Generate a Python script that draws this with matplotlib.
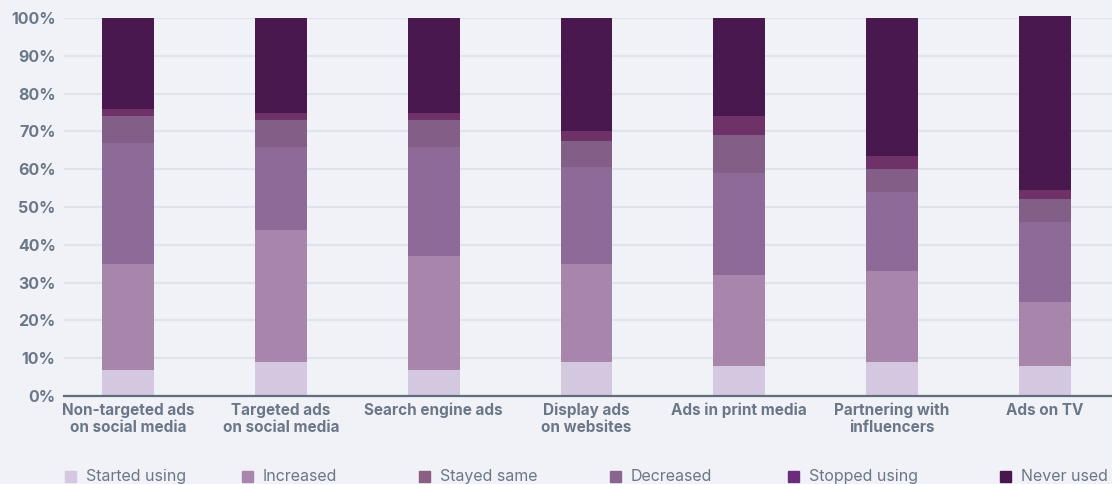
import matplotlib

matplotlib.use("Agg")
import matplotlib.pyplot as plt
import numpy as np
from matplotlib.patches import Rectangle

# donnees (en %)
categories = [
    "Non-targeted ads\non social media",
    "Targeted ads\non social media",
    "Search engine ads",
    "Display ads\non websites",
    "Ads in print media",
    "Partnering with\ninfluencers",
    "Ads on TV",
]
series = ["Started using", "Increased", "Stayed same", "Decreased",
          "Stopped using", "Never used"]
started = [7, 9, 7, 9, 8, 9, 8]
increased = [28, 35, 30, 26, 24, 24, 17]
stayed = [32, 22, 29, 25.5, 27, 21, 21]
decreased = [7, 7, 7, 7, 10, 6, 6]
stopped = [2, 2, 2, 2.5, 5, 3.5, 2.5]
never = [24, 25, 25, 30, 26, 36.5, 46]
values = [started, increased, stayed, decreased, stopped, never]

colors = ["#d3c8e0", "#a886ab", "#8d6a98", "#835e86", "#6e3168", "#48184e"]
legend_colors = ["#d3c8e0", "#a886ab", "#8b5e83", "#8a6590", "#6b2c7d", "#48174e"]

BG = "#f0f2f7"
TXT = "#6b7787"
plt.rcParams["font.family"] = ["Inter", "DejaVu Sans"]

fig = plt.figure(figsize=(11.12, 4.84), dpi=100, facecolor=BG)
ax = fig.add_axes([64 / 1112, 1 - 396 / 484, 1 - 64 / 1112, 378 / 484])
ax.set_facecolor(BG)

x = np.arange(len(categories))
bottom = np.zeros(len(categories))
for vals, col in zip(values, colors):
    ax.bar(x, vals, width=0.34, bottom=bottom, color=col, linewidth=0,
           zorder=3, clip_on=False)
    bottom += np.array(vals)

ax.set_xlim(-0.42, 6.44)
ax.set_ylim(0, 100)
ax.set_yticks(np.arange(0, 101, 10))
ax.set_yticklabels([f"{v}%" for v in range(0, 101, 10)])
ax.yaxis.grid(True, color="#dfe3ea", linewidth=1.6, zorder=0)
ax.set_axisbelow(True)
ax.set_xticks(x)
ax.set_xticklabels(categories, linespacing=1.15)

for s in ["top", "right", "left"]:
    ax.spines[s].set_visible(False)
ax.spines["bottom"].set_color("#5f6d7c")
ax.spines["bottom"].set_linewidth(1.6)
ax.spines["bottom"].set_zorder(4)

ax.tick_params(axis="y", length=0, pad=6, labelsize=11.5, labelcolor=TXT)
ax.tick_params(axis="x", length=0, pad=5, labelsize=11, labelcolor=TXT)
for lab in ax.get_xticklabels() + ax.get_yticklabels():
    lab.set_fontweight("bold")

# legende placee a la main en bas
legend_x = [65, 242, 419, 610, 788, 1000]
for name, col, px in zip(series, legend_colors, legend_x):
    fig.patches.append(Rectangle((px / 1112, 1 - 482 / 484), 11 / 1112, 11 / 484,
                                 transform=fig.transFigure, color=col))
    fig.text((px + 21) / 1112, 1 - 481 / 484, name, fontsize=11.5, color=TXT,
             va="baseline", ha="left")

fig.savefig("out.png", dpi=100, facecolor=BG)
